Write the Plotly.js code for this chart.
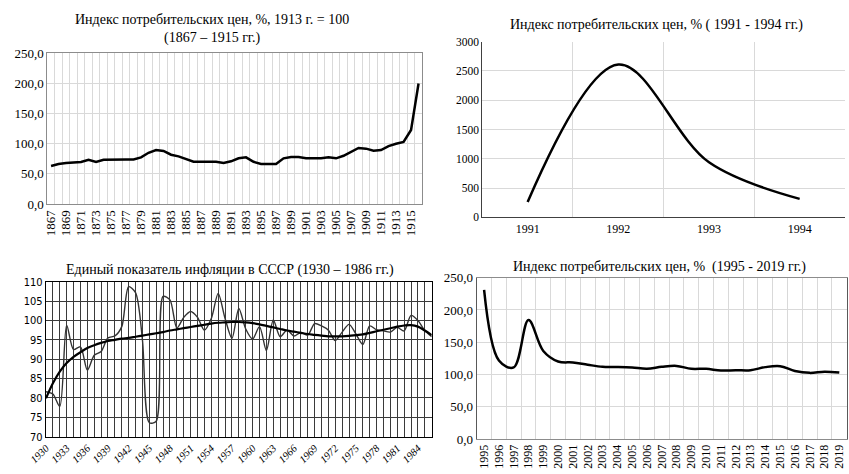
<!DOCTYPE html>
<html>
<head>
<meta charset="utf-8">
<script src="https://cdn.plot.ly/plotly-3.0.1.min.js"></script>
<style>html,body{margin:0;padding:0;background:#fff;}#chart{width:849px;height:474px;}</style>
</head>
<body>
<div id="chart"></div>
<script>
// ---- Chart 1: CPI 1867-1916 (1913 = 100)
const years1 = [1867,1868,1869,1870,1871,1872,1873,1874,1875,1876,1877,1878,1879,1880,1881,1882,1883,1884,1885,1886,1887,1888,1889,1890,1891,1892,1893,1894,1895,1896,1897,1898,1899,1900,1901,1902,1903,1904,1905,1906,1907,1908,1909,1910,1911,1912,1913,1914,1915,1916];
const cpi1 = [63,66.4,68,69,69.7,73.5,69.7,73.5,74,74,74,74,77.4,85,89.6,88,81.8,79,74,70,70,70,70,68,70.8,75.8,77.4,70,66.4,66.4,66.4,75.8,78,78,75.8,75.8,75.8,77.4,75.8,80,86,93,91.8,88.5,89.6,96,100,103,122.8,200];
const ticks1 = [1867,1869,1871,1873,1875,1877,1879,1881,1883,1885,1887,1889,1891,1893,1895,1897,1899,1901,1903,1905,1907,1909,1911,1913,1915];

// ---- Chart 2: CPI 1991-1994
const years2 = [1991,1992,1993,1994];
const cpi2 = [260.4,2608.8,939.9,315.1];

// ---- Chart 3: USSR inflation 1930-1986
const years3 = [1930,1931,1932,1933,1934,1935,1936,1937,1938,1939,1940,1941,1942,1943,1944,1945,1946,1947,1948,1949,1950,1951,1952,1953,1954,1955,1956,1957,1958,1959,1960,1961,1962,1963,1964,1965,1966,1967,1968,1969,1970,1971,1972,1973,1974,1975,1976,1977,1978,1979,1980,1981,1982,1983,1984,1985,1986];
const infl3 = [81.6,81.0,77.8,98.8,92.5,93.2,87.2,91.0,92.0,95.5,96.0,98.4,108.7,107.2,95.0,73.6,74.0,106.2,105.3,98.0,100.8,102.3,100.8,97.5,100.5,107.0,100.5,95.4,103.1,97.8,95.2,98.4,92.2,100.1,95.8,97.5,96.0,96.9,96.2,99.2,98.6,97.5,94.8,97.0,99.0,96.5,93.8,98.6,97.6,97.3,97.0,98.2,97.3,101.3,100.0,97.4,95.8];
const trend3 = [79.9,83.8,86.8,89.0,90.6,91.8,92.9,93.6,94.2,94.7,95.0,95.3,95.5,95.8,96.1,96.4,96.7,97.0,97.4,97.7,98.0,98.3,98.6,98.9,99.2,99.4,99.5,99.6,99.6,99.5,99.3,99.0,98.6,98.2,97.8,97.4,97.1,96.8,96.5,96.3,96.1,95.9,95.9,95.9,96.0,96.2,96.4,96.8,97.2,97.6,98.0,98.4,98.7,98.8,98.4,97.4,96.2];
const ticks3 = [1930,1933,1936,1939,1942,1945,1948,1951,1954,1957,1960,1963,1966,1969,1972,1975,1978,1981,1984];

// ---- Chart 4: CPI 1995-2019
const years4 = [1995,1996,1997,1998,1999,2000,2001,2002,2003,2004,2005,2006,2007,2008,2009,2010,2011,2012,2013,2014,2015,2016,2017,2018,2019];
const cpi4 = [231.3,121.8,111.0,184.4,136.5,120.2,118.6,115.1,112.0,111.7,110.9,109.0,111.9,113.3,108.8,108.8,106.1,106.6,106.5,111.4,112.9,105.4,102.5,104.3,103.0];

const titles = [
  "Индекс потребительских цен, %, 1913 г. = 100<br>(1867 – 1915 гг.)",
  "Индекс потребительских цен, % ( 1991 - 1994 гг.)",
  "Единый показатель инфляции в СССР (1930 – 1986 гг.)",
  "Индекс потребительских цен, %  (1995 - 2019 гг.)"
];

const SERIF = "'Liberation Serif', 'Times New Roman', serif";
const NARROW = "'DejaVu Sans Condensed', 'Liberation Sans', sans-serif";
const W = 849, H = 474;
const fx = p => p / W;
const fy = p => 1 - p / H;

const traces = [
  {x: years1, y: cpi1, xaxis: 'x', yaxis: 'y', mode: 'lines', line: {color: '#000', width: 2.5}},
  {x: years2, y: cpi2, xaxis: 'x2', yaxis: 'y2', mode: 'lines', line: {color: '#000', width: 2.5, shape: 'spline', smoothing: 1}},
  {x: years3, y: infl3, xaxis: 'x3', yaxis: 'y3', mode: 'lines', line: {color: '#333', width: 1.4, shape: 'spline', smoothing: 0.8}},
  {x: years3, y: trend3, xaxis: 'x3', yaxis: 'y3', mode: 'lines', line: {color: '#000', width: 2.2, shape: 'spline', smoothing: 1}},
  {x: years4, y: cpi4, xaxis: 'x4', yaxis: 'y4', mode: 'lines', line: {color: '#000', width: 2.5, shape: 'spline', smoothing: 1}}
];

const lightGrid = '#d9d9d9';
const layout = {
  width: W, height: H,
  margin: {l: 0, r: 0, t: 0, b: 0},
  paper_bgcolor: '#fff', plot_bgcolor: '#fff',
  showlegend: false,
  separators: ', ',
  font: {family: SERIF, color: '#000'},
  xaxis: {
    domain: [fx(47.3), fx(422.3)], anchor: 'y',
    range: [1866.5, 1916.5],
    tickmode: 'array', tickvals: ticks1, ticktext: ticks1.map(String),
    tickangle: -90, tickfont: {family: SERIF, size: 13, color: '#000'},
    showgrid: false, zeroline: false, ticks: '',
    minor: {tick0: 1866.5, dtick: 1, showgrid: true, gridcolor: lightGrid, gridwidth: 1, ticks: ''},
    showline: true, linecolor: '#8c8c8c', linewidth: 1, mirror: true
  },
  yaxis: {
    domain: [fy(204), fy(53.3)], anchor: 'x',
    range: [0, 250], dtick: 50, tick0: 0, tickformat: '.1f',
    tickfont: {family: SERIF, size: 13, color: '#000'},
    gridcolor: lightGrid, zeroline: false, ticks: '',
    showline: true, linecolor: '#8c8c8c', linewidth: 1, mirror: true
  },
  xaxis2: {
    domain: [fx(482.3), fx(845)], anchor: 'y2',
    range: [1990.5, 1994.5],
    tickmode: 'array', tickvals: years2, ticktext: years2.map(String),
    tickfont: {family: SERIF, size: 12, color: '#000'},
    showgrid: false, zeroline: false, ticks: '',
    minor: {tick0: 1990.5, dtick: 1, showgrid: true, gridcolor: lightGrid, gridwidth: 1, ticks: ''},
    showline: true, linecolor: '#404040', linewidth: 1
  },
  yaxis2: {
    domain: [fy(217.3), fy(41.7)], anchor: 'x2',
    range: [0, 3000], dtick: 500, tick0: 0, tickformat: 'd',
    tickfont: {family: SERIF, size: 11.5, color: '#000'},
    gridcolor: lightGrid, zeroline: false, ticks: '',
    showline: true, linecolor: '#404040', linewidth: 1
  },
  xaxis3: {
    domain: [fx(46), fx(431.7)], anchor: 'y3',
    range: [1930, 1986],
    tickmode: 'array', tickvals: ticks3, ticktext: ticks3.map(String),
    tickangle: -45, tickfont: {family: SERIF, size: 10.5, color: '#000', style: 'italic'},
    showgrid: true, gridcolor: '#3a3a3a', gridwidth: 1, zeroline: false, ticks: '',
    minor: {tick0: 1930, dtick: 1, showgrid: true, gridcolor: '#3a3a3a', gridwidth: 1, ticks: ''},
    showline: true, linecolor: '#000', linewidth: 1.2, mirror: true
  },
  yaxis3: {
    domain: [fy(436.7), fy(281.7)], anchor: 'x3',
    range: [70, 110], dtick: 5, tick0: 70,
    tickfont: {family: NARROW, size: 11, color: '#000'},
    gridcolor: '#3a3a3a', gridwidth: 1, zeroline: false, ticks: '',
    showline: true, linecolor: '#000', linewidth: 1.2, mirror: true
  },
  xaxis4: {
    domain: [fx(476.7), fx(846.7)], anchor: 'y4',
    range: [1994.5, 2019.5],
    tickmode: 'array', tickvals: years4, ticktext: years4.map(String),
    tickangle: -90, tickfont: {family: SERIF, size: 12, color: '#000'},
    showgrid: false, zeroline: false, ticks: '',
    minor: {tick0: 1994.5, dtick: 1, showgrid: true, gridcolor: lightGrid, gridwidth: 1, ticks: ''},
    showline: true, linecolor: '#8c8c8c', linewidth: 1, mirror: true
  },
  yaxis4: {
    domain: [fy(439), fy(277.7)], anchor: 'x4',
    range: [0, 250], dtick: 50, tick0: 0, tickformat: '.1f',
    tickfont: {family: SERIF, size: 13, color: '#000'},
    gridcolor: lightGrid, zeroline: false, ticks: '',
    showline: true, linecolor: '#595959', linewidth: 1, mirror: true
  },
  annotations: [
    {text: titles[0], x: fx(212), y: fy(29), xref: 'paper', yref: 'paper', xanchor: 'center', yanchor: 'middle', showarrow: false, font: {family: SERIF, size: 14, color: '#000'}},
    {text: titles[1], x: fx(656), y: fy(25), xref: 'paper', yref: 'paper', xanchor: 'center', yanchor: 'middle', showarrow: false, font: {family: SERIF, size: 14, color: '#000'}},
    {text: titles[2], x: fx(230), y: fy(270), xref: 'paper', yref: 'paper', xanchor: 'center', yanchor: 'middle', showarrow: false, font: {family: SERIF, size: 14, color: '#000'}},
    {text: titles[3], x: fx(659), y: fy(267), xref: 'paper', yref: 'paper', xanchor: 'center', yanchor: 'middle', showarrow: false, font: {family: SERIF, size: 14, color: '#000'}}
  ]
};

Plotly.newPlot('chart', traces, layout, {displayModeBar: false, staticPlot: true});
</script>
</body>
</html>
